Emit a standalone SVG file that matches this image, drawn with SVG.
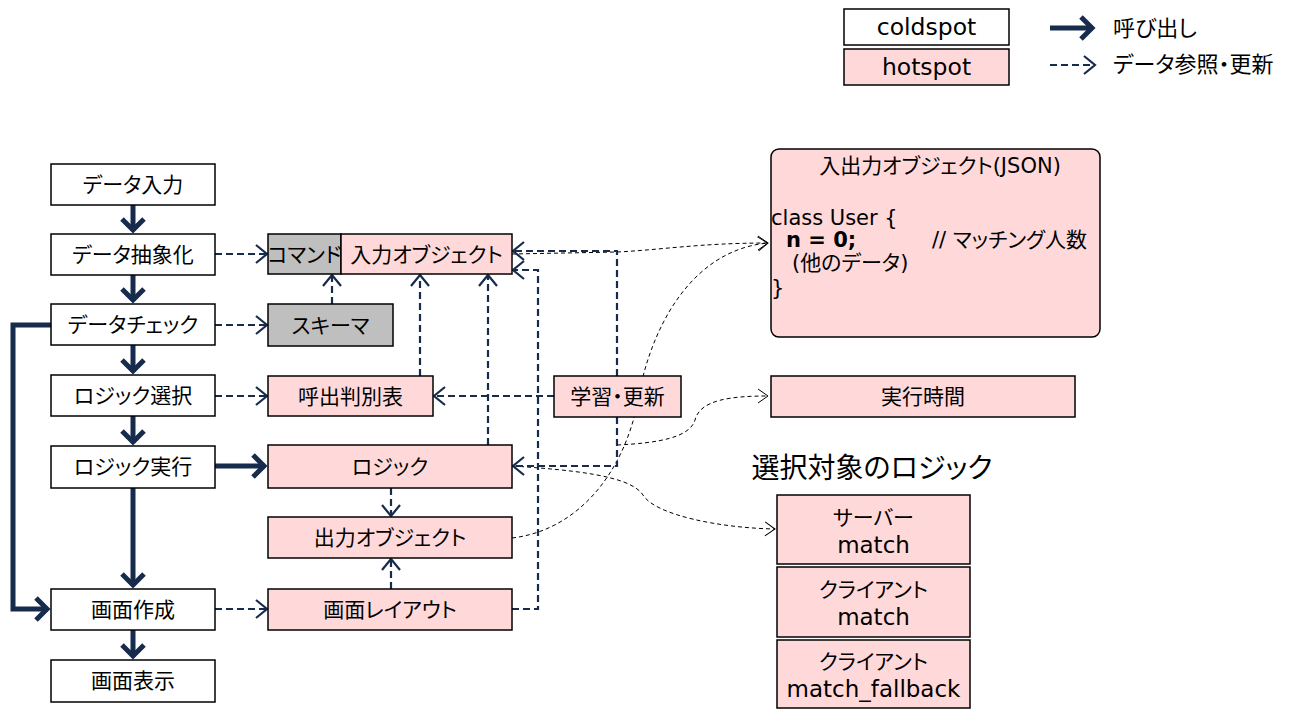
<svg xmlns="http://www.w3.org/2000/svg" width="1303" height="709" viewBox="0 0 1303 709">
<style>
.box{stroke:#000;stroke-width:1.5}
.cold{fill:#fff}
.hot{fill:#ffd9d9}
.gray{fill:#bfbfbf}
text{font-family:"DejaVu Sans","Noto Sans CJK JP",sans-serif;font-size:21px;fill:#000;font-feature-settings:"palt"}
.c{text-anchor:middle}
.lat{font-size:23px}
.thick{stroke:#172b4d;stroke-width:5;fill:none}
.dash{stroke:#172b4d;stroke-width:2.2;stroke-dasharray:7 4;fill:none}
.thin{stroke:#000;stroke-width:1;stroke-dasharray:4 3;fill:none}
</style>
<defs>
<marker id="ah" markerUnits="userSpaceOnUse" refX="0" refY="0" orient="auto" overflow="visible" markerWidth="1" markerHeight="1"><path d="M-12,-11 L-1,0 L-12,11" fill="none" stroke="#172b4d" stroke-width="5"/></marker>
<marker id="ad" markerUnits="userSpaceOnUse" refX="0" refY="0" orient="auto" overflow="visible" markerWidth="1" markerHeight="1"><path d="M-11,-9 L0,0 L-11,9" fill="none" stroke="#172b4d" stroke-width="2.2"/></marker>
<marker id="at" markerUnits="userSpaceOnUse" refX="0" refY="0" orient="auto" overflow="visible" markerWidth="1" markerHeight="1"><path d="M-10,-7 L0,0 L-10,7" fill="none" stroke="#000" stroke-width="1"/></marker>
</defs>

<g id="connectors">
<path class="thin" d="M512,254 L617,252 C660,250 700,243 768,243" marker-end="url(#at)"/>
<path class="thin" d="M512,538 C580,530 625,470 638,400 C650,330 690,250 768,243" marker-end="url(#at)"/>
<path class="thin" d="M617,445 C660,443 690,437 695,420 C700,400 730,396 768,396" marker-end="url(#at)"/>
<path class="thin" d="M513,466 C570,470 630,475 643,495 C655,515 720,528 775,529" marker-end="url(#at)"/>

<path class="thick" d="M133,205 L133,231" marker-end="url(#ah)"/>
<path class="thick" d="M133,275 L133,301" marker-end="url(#ah)"/>
<path class="thick" d="M133,345 L133,372" marker-end="url(#ah)"/>
<path class="thick" d="M133,416 L133,443" marker-end="url(#ah)"/>
<path class="thick" d="M133,488 L133,586" marker-end="url(#ah)"/>
<path class="thick" d="M133,630 L133,657" marker-end="url(#ah)"/>
<path class="thick" d="M51,325 L13,325 L13,609 L48,609" marker-end="url(#ah)"/>
<path class="thick" d="M215,466 L265,466" marker-end="url(#ah)"/>

<path class="dash" d="M215,254 L267,254" marker-end="url(#ad)"/>
<path class="dash" d="M215,325 L267,325" marker-end="url(#ad)"/>
<path class="dash" d="M215,396 L267,396" marker-end="url(#ad)"/>
<path class="dash" d="M215,609 L267,609" marker-end="url(#ad)"/>
<path class="dash" d="M332,304 L332,275" marker-end="url(#ad)"/>
<path class="dash" d="M420,376 L420,275" marker-end="url(#ad)"/>
<path class="dash" d="M488,445 L488,275" marker-end="url(#ad)"/>
<path class="dash" d="M391,488 L391,516" marker-end="url(#ad)"/>
<path class="dash" d="M391,589 L391,559" marker-end="url(#ad)"/>
<path class="dash" d="M512,609 L538,609 L538,270 L513,270" marker-end="url(#ad)"/>
<path class="dash" d="M617,376 L617,251 L513,251" marker-end="url(#ad)"/>
<path class="dash" d="M554,396 L434,396" marker-end="url(#ad)"/>
<path class="dash" d="M617,417 L617,466 L513,466" marker-end="url(#ad)"/>
</g>

<g id="legend">
<rect class="box cold" x="844" y="9" width="165" height="36"/>
<text class="c" x="926.5" y="35" style="font-size:23.5px">coldspot</text>
<rect class="box hot" x="844" y="49" width="165" height="36"/>
<text class="c" x="926.5" y="75" style="font-size:23.5px">hotspot</text>
<path class="thick" d="M1050,28 L1093,28" marker-end="url(#ah)"/>
<text x="1113" y="36" style="font-size:22px">呼び出し</text>
<path class="dash" d="M1050,65 L1095,65" marker-end="url(#ad)"/>
<text x="1113" y="72" style="font-size:22px">データ参照・更新</text>
</g>

<g id="n-input"><rect class="box cold" x="51" y="164" width="164" height="41"/><text class="c" x="133" y="192">データ入力</text></g>
<g id="n-abstract"><rect class="box cold" x="51" y="234" width="164" height="41"/><text class="c" x="133" y="262">データ抽象化</text></g>
<g id="n-check"><rect class="box cold" x="51" y="304" width="164" height="41"/><text class="c" x="133" y="332">データチェック</text></g>
<g id="n-select"><rect class="box cold" x="51" y="375" width="164" height="41"/><text class="c" x="133" y="403">ロジック選択</text></g>
<g id="n-exec"><rect class="box cold" x="51" y="446" width="164" height="42"/><text class="c" x="133" y="474">ロジック実行</text></g>
<g id="n-screen"><rect class="box cold" x="51" y="589" width="164" height="41"/><text class="c" x="133" y="617">画面作成</text></g>
<g id="n-display"><rect class="box cold" x="51" y="660" width="164" height="42"/><text class="c" x="133" y="688">画面表示</text></g>

<g id="n-command"><rect class="box gray" x="268" y="234" width="73" height="40"/><text class="c" x="304.5" y="262">コマンド</text></g>
<g id="n-inobj"><rect class="box hot" x="341" y="234" width="171" height="40"/><text class="c" x="426.5" y="262">入力オブジェクト</text></g>
<g id="n-schema"><rect class="box gray" x="268" y="304" width="125" height="42"/><text class="c" x="330.5" y="333">スキーマ</text></g>
<g id="n-table"><rect class="box hot" x="268" y="376" width="165" height="40"/><text class="c" x="350.5" y="404">呼出判別表</text></g>
<g id="n-logic"><rect class="box hot" x="268" y="445" width="244" height="43"/><text class="c" x="390" y="474">ロジック</text></g>
<g id="n-outobj"><rect class="box hot" x="268" y="517" width="244" height="41"/><text class="c" x="390" y="545">出力オブジェクト</text></g>
<g id="n-layout"><rect class="box hot" x="268" y="589" width="244" height="41"/><text class="c" x="390" y="617">画面レイアウト</text></g>
<g id="n-learn"><rect class="box hot" x="554" y="376" width="127" height="41"/><text class="c" x="617.5" y="404">学習・更新</text></g>

<g id="n-json">
<rect class="box hot" x="771" y="149" width="329" height="188" rx="8"/>
<text class="c" x="940" y="173">入出力オブジェクト(JSON)</text>
<text x="771" y="225">class User {</text>
<text x="786" y="247" style="font-weight:bold">n = 0;</text>
<text x="932" y="247">// マッチング人数</text>
<text x="792" y="270">(他のデータ)</text>
<text x="771" y="295">}</text>
</g>
<g id="n-time"><rect class="box hot" x="771" y="376" width="304" height="41"/><text class="c" x="923" y="404">実行時間</text></g>

<text class="c" x="872" y="478" style="font-size:28px">選択対象のロジック</text>
<g id="n-server"><rect class="box hot" x="777" y="495" width="193" height="69"/><text class="c" x="873.5" y="525">サーバー</text><text class="c lat" x="873.5" y="553">match</text></g>
<g id="n-client"><rect class="box hot" x="777" y="567" width="193" height="70"/><text class="c" x="873.5" y="597">クライアント</text><text class="c lat" x="873.5" y="625">match</text></g>
<g id="n-fallback"><rect class="box hot" x="777" y="640" width="193" height="68"/><text class="c" x="873.5" y="669">クライアント</text><text class="c lat" x="873.5" y="697">match_fallback</text></g>
</svg>
